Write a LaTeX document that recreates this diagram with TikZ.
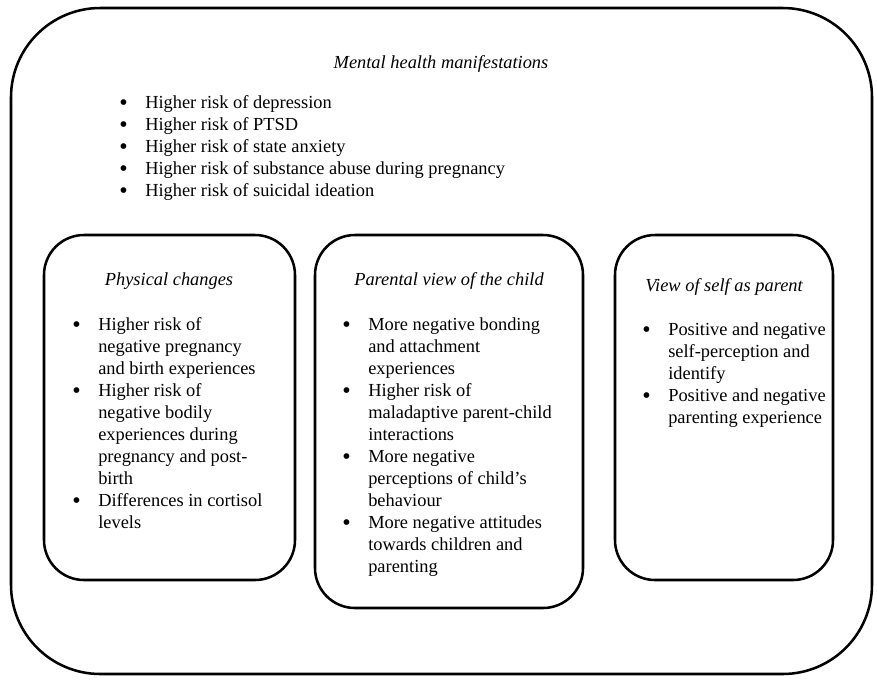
\documentclass[tikz,border=0pt]{standalone}
\usepackage{fontspec}
\setmainfont{Liberation Serif}
\newcommand{\itemdot}{\raisebox{-0.3ex}[0pt][0pt]{\fontsize{18}{18}\selectfont\textbullet}}
\tikzset{
  panel/.style={draw, line width=1.9pt, rounded corners=30pt, inner sep=0pt},
  heading/.style={font=\fontsize{13.8}{16.5}\selectfont\itshape, anchor=base, inner sep=0pt},
  items/.style={font=\fontsize{13.8}{16.5}\selectfont, anchor=base west, inner sep=0pt}
}
\begin{document}
\begin{tikzpicture}[x=0.75pt,y=-0.75pt]
  \useasboundingbox (0,0) rectangle (877,679);
  % outer frame
  \node[panel, rounded corners=67pt,
        minimum width=645.75pt, minimum height=499.5pt]
        (mental) at (441.5,341) {};
  \node[heading] (mentalT) at (441,68) {Mental health manifestations};
  \node[items] (mentalL) at (119,108) {%
    \begin{tabular}[t]{@{}p{19.5pt}@{}l@{}}
      \itemdot & Higher risk of depression\\
      \itemdot & Higher risk of PTSD\\
      \itemdot & Higher risk of state anxiety\\
      \itemdot & Higher risk of substance abuse during pregnancy\\
      \itemdot & Higher risk of suicidal ideation
    \end{tabular}};
  % three inner panels
  \node[panel, minimum width=188.25pt, minimum height=258.75pt]
        (phys) at (169.5,407.5) {};
  \node[panel, minimum width=201pt, minimum height=279.75pt]
        (child) at (449,421.5) {};
  \node[panel, minimum width=163.5pt, minimum height=258.75pt]
        (self) at (724,407.5) {};
  \node[heading] (physT) at (169,285) {Physical changes};
  \node[heading] (childT) at (449,285) {Parental view of the child};
  \node[heading] (selfT) at (724,291) {View of self as parent};
  \node[items] (physL) at (72,330) {%
    \begin{tabular}[t]{@{}p{19.5pt}@{}l@{}}
      \itemdot & Higher risk of\\
               & negative pregnancy\\
               & and birth experiences\\
      \itemdot & Higher risk of\\
               & negative bodily\\
               & experiences during\\
               & pregnancy and post-\\
               & birth\\
      \itemdot & Differences in cortisol\\
               & levels
    \end{tabular}};
  \node[items] (childL) at (342,330) {%
    \begin{tabular}[t]{@{}p{19.5pt}@{}l@{}}
      \itemdot & More negative bonding\\
               & and attachment\\
               & experiences\\
      \itemdot & Higher risk of\\
               & maladaptive parent-child\\
               & interactions\\
      \itemdot & More negative\\
               & perceptions of child’s\\
               & behaviour\\
      \itemdot & More negative attitudes\\
               & towards children and\\
               & parenting
    \end{tabular}};
  \node[items] (selfL) at (642,335) {%
    \begin{tabular}[t]{@{}p{19.5pt}@{}l@{}}
      \itemdot & Positive and negative\\
               & self-perception and\\
               & identify\\
      \itemdot & Positive and negative\\
               & parenting experience
    \end{tabular}};
\end{tikzpicture}
\end{document}
